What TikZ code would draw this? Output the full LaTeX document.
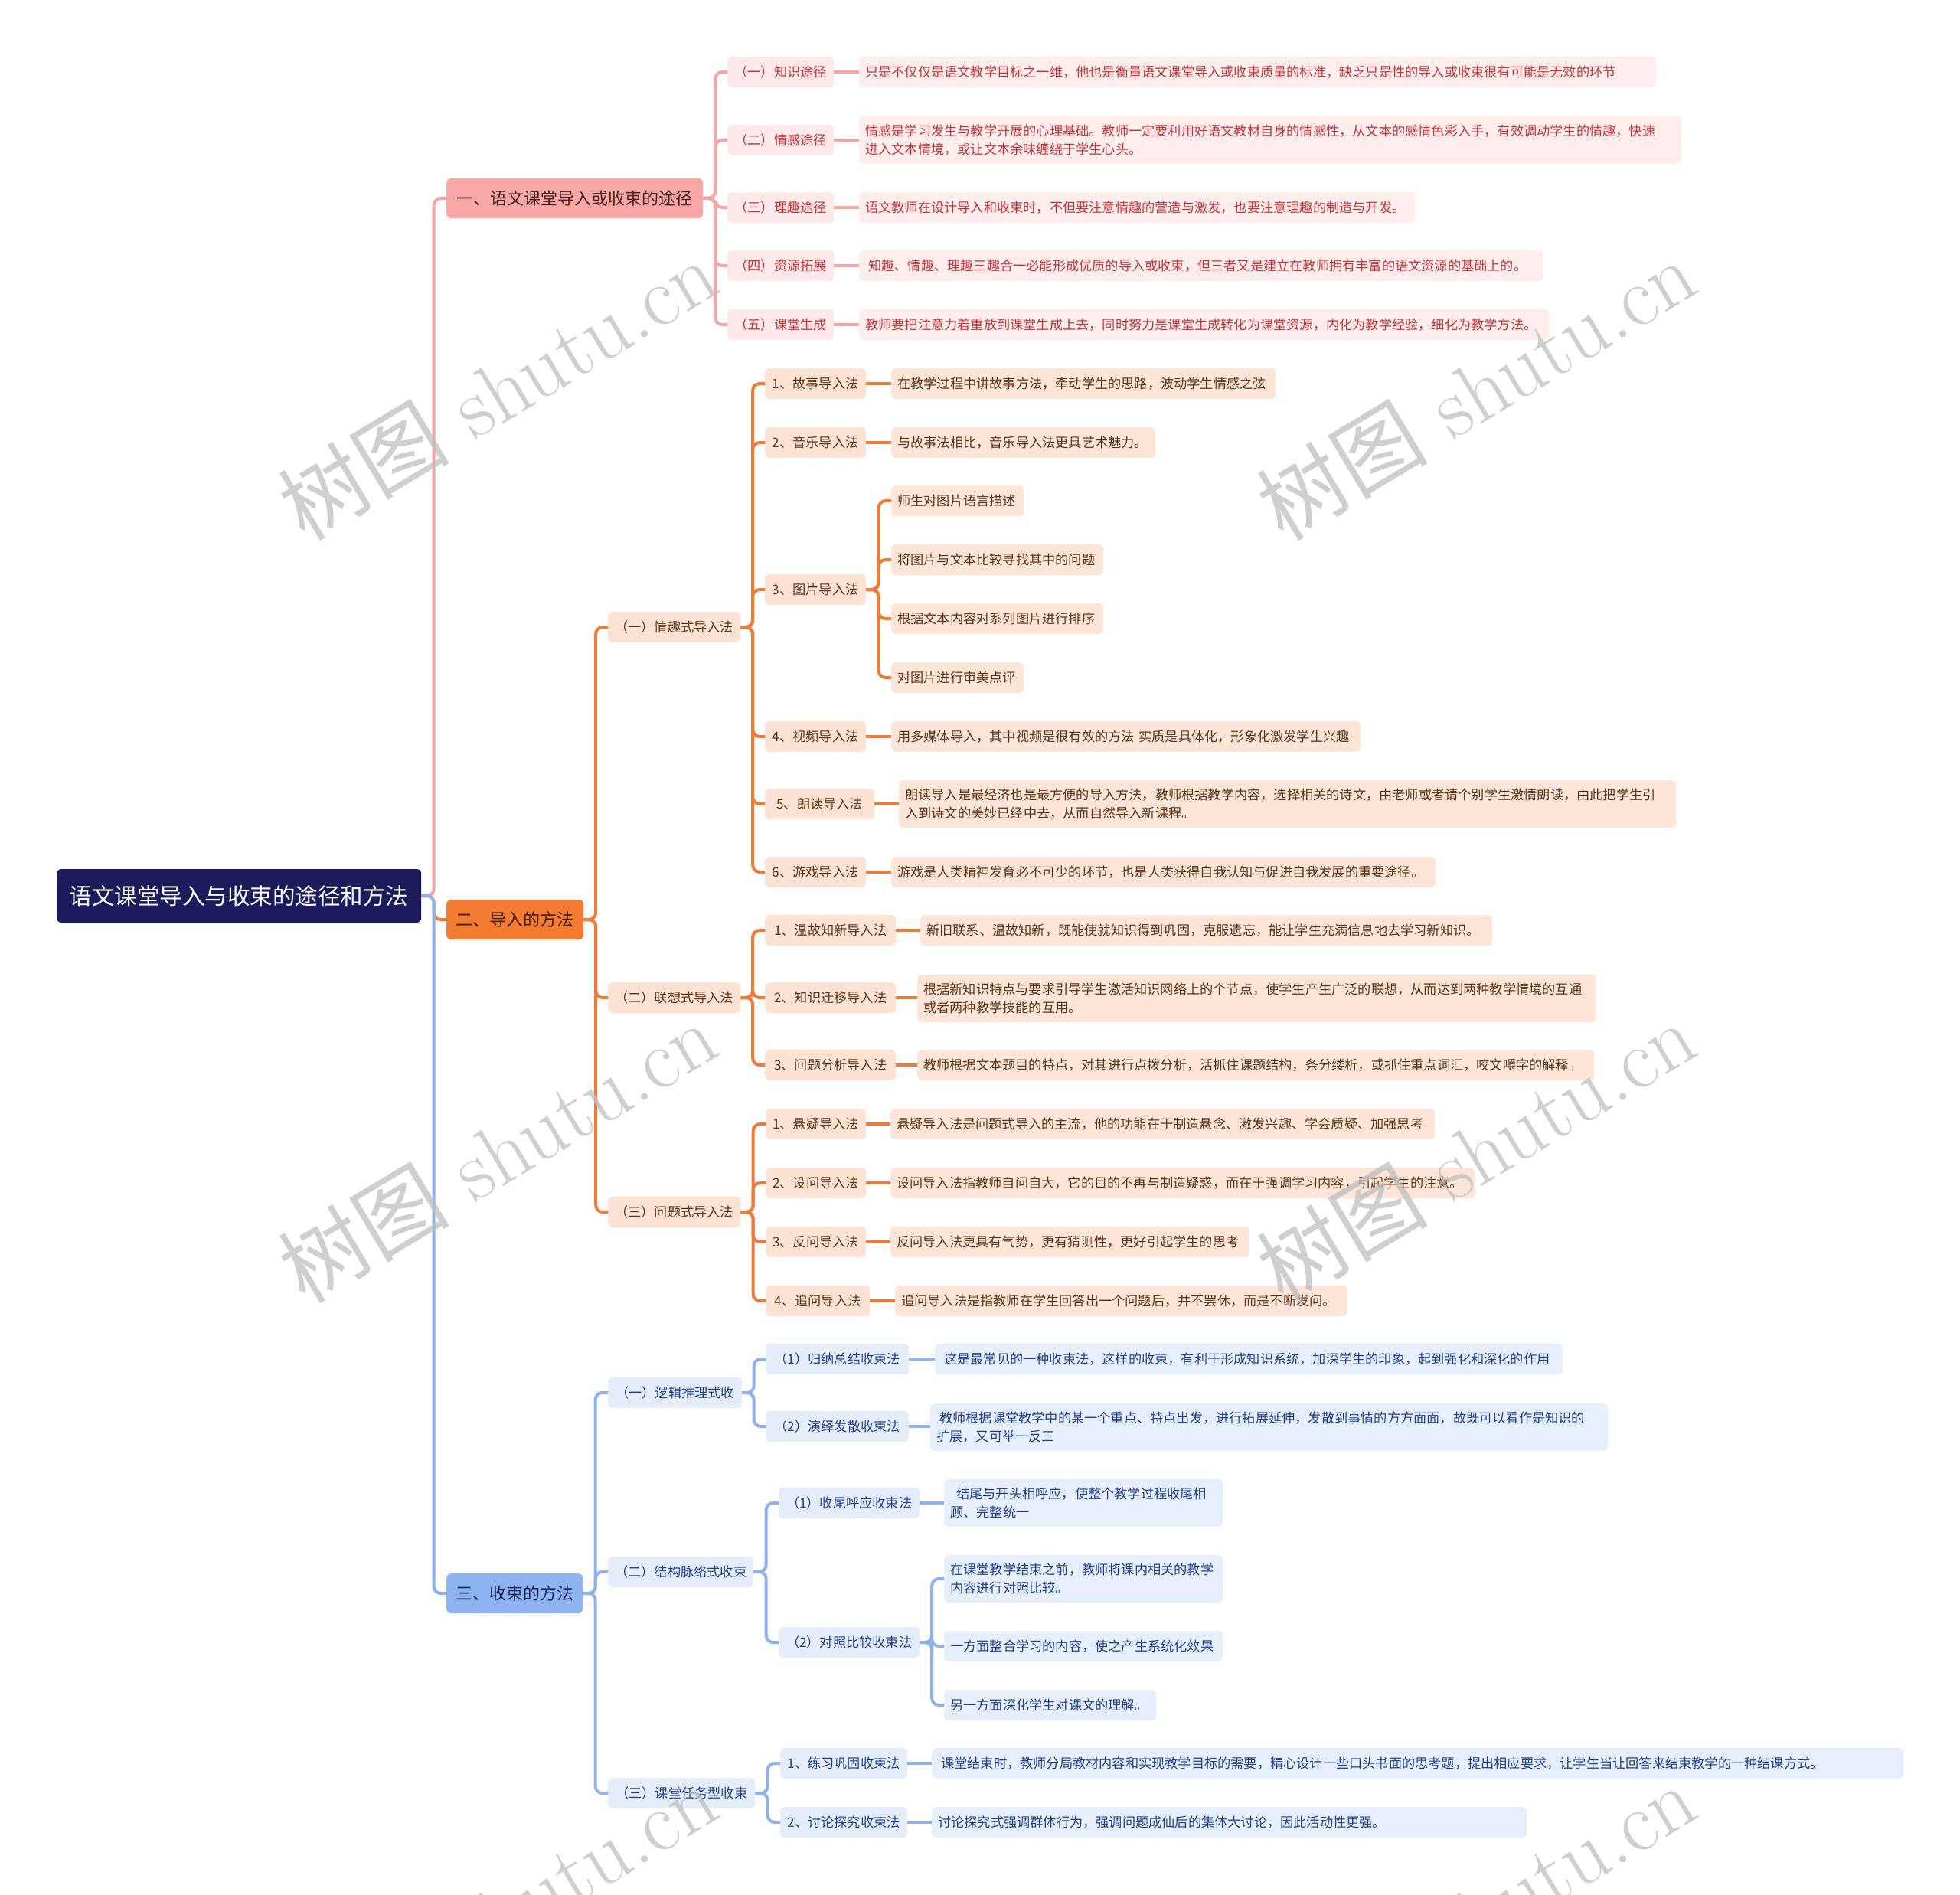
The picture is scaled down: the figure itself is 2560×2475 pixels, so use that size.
\documentclass[tikz,border=0pt]{standalone}
\usepackage{fontspec}
\newfontfamily\cjk{Noto Sans CJK SC}
\usetikzlibrary{calc}
\definecolor{cRoot}{HTML}{1C1B5C}
\definecolor{cPkA}{HTML}{F7A8A6}
\definecolor{cPkAt}{HTML}{4A2424}
\definecolor{cPkB}{HTML}{FDE9E9}
\definecolor{cPkL}{HTML}{FDEEED}
\definecolor{cPkt}{HTML}{C0343A}
\definecolor{cPkLine}{HTML}{F3A6A4}
\definecolor{cOrA}{HTML}{F47B32}
\definecolor{cOrAt}{HTML}{3A1E08}
\definecolor{cOrB}{HTML}{FDE3D3}
\definecolor{cOrL}{HTML}{FDE6D8}
\definecolor{cOrt}{HTML}{5C3317}
\definecolor{cOrLine}{HTML}{EE7C38}
\definecolor{cBlA}{HTML}{8DB3F1}
\definecolor{cBlAt}{HTML}{1A2A5C}
\definecolor{cBlB}{HTML}{E5EDFB}
\definecolor{cBlL}{HTML}{E8EFFC}
\definecolor{cBlt}{HTML}{23408E}
\definecolor{cBlLine}{HTML}{8FB2EE}
\tikzset{
  box/.style={anchor=west, rounded corners=6pt, inner xsep=9pt, inner ysep=0pt,
    minimum height=40pt, align=left, font=\cjk\fontsize{17.2}{23.5}\selectfont},
  leaf/.style={box, inner xsep=8pt},
  two/.style={minimum height=62pt},
  big/.style={box, minimum height=52pt, align=center, font=\cjk\fontsize{22}{26}\selectfont},
  rootbox/.style={box, fill=cRoot, text=white, minimum height=70pt, align=center,
    font=\cjk\fontsize{29.5}{33}\selectfont},
  pkA/.style={big, fill=cPkA, text=cPkAt},
  pkB/.style={box, fill=cPkB, text=cPkt, align=center},
  pkL/.style={leaf, fill=cPkL, text=cPkt},
  orA/.style={big, fill=cOrA, text=cOrAt},
  orB/.style={box, fill=cOrB, text=cOrt, align=center},
  orL/.style={leaf, fill=cOrL, text=cOrt},
  blA/.style={big, fill=cBlA, text=cBlAt},
  blB/.style={box, fill=cBlB, text=cBlt, align=center},
  blL/.style={leaf, fill=cBlL, text=cBlt},
  edge/.style={line width=4pt, rounded corners=9pt},
  pkE/.style={edge, draw=cPkLine},
  orE/.style={edge, draw=cOrLine},
  blE/.style={edge, draw=cBlLine},
  wmark/.style={rotate=31, text=black!25, opacity=0.75, font=\fontsize{112}{112}\selectfont}
}
\newcommand\lnk[3]{\draw[#1] (#2.east) -- ($(#2.east)!0.5!(#2.east -| #3.west)$) |- (#3.west);}
\newcommand\lns[3]{\draw[#1] (#2.east) -- (#2.east -| #3.west);}
\begin{document}
\begin{tikzpicture}[x=1pt,y=-1pt]
\useasboundingbox[fill=white] (0,0) rectangle (2560,2475);

% root and level 1
\node[rootbox, minimum width=476pt] (root) at (74,1170) {语文课堂导入与收束的途径和方法};
\node[pkA, minimum width=335pt] (A1) at (583,259) {一、语文课堂导入或收束的途径};
\node[orA, minimum width=179pt] (A2) at (583,1201) {二、导入的方法};
\node[blA, minimum width=178pt] (A3) at (583,2081) {三、收束的方法};

% pink branch
\node[pkB, minimum width=139pt] (p1) at (950,94) {（一）知识途径};
\node[pkB, minimum width=139pt] (p2) at (950,183) {（二）情感途径};
\node[pkB, minimum width=139pt] (p3) at (950,271) {（三）理趣途径};
\node[pkB, minimum width=139pt] (p4) at (950,347) {（四）资源拓展};
\node[pkB, minimum width=139pt] (p5) at (950,424) {（五）课堂生成};
\node[pkL, text width=1025pt] (p1L) at (1122,94) {只是不仅仅是语文教学目标之一维，他也是衡量语文课堂导入或收束质量的标准，缺乏只是性的导入或收束很有可能是无效的环节};
\node[pkL, two, text width=1058pt] (p2L) at (1122,183) {情感是学习发生与教学开展的心理基础。教师一定要利用好语文教材自身的情感性，从文本的感情色彩入手，有效调动学生的情趣，快速\\进入文本情境，或让文本余味缠绕于学生心头。};
\node[pkL, text width=710pt] (p3L) at (1122,271) {语文教师在设计导入和收束时，不但要注意情趣的营造与激发，也要注意理趣的制造与开发。};
\node[pkL, text width=878pt] (p4L) at (1122,347) {\hspace{4pt}知趣、情趣、理趣三趣合一必能形成优质的导入或收束，但三者又是建立在教师拥有丰富的语文资源的基础上的。};
\node[pkL, text width=885pt] (p5L) at (1122,424) {教师要把注意力着重放到课堂生成上去，同时努力是课堂生成转化为课堂资源，内化为教学经验，细化为教学方法。};

% orange branch
\node[orB, minimum width=173pt] (o1) at (794,819) {（一）情趣式导入法};
\node[orB, minimum width=173pt] (o2) at (794,1303) {（二）联想式导入法};
\node[orB, minimum width=173pt] (o3) at (794,1583) {（三）问题式导入法};

\node[orB, minimum width=132pt] (a1) at (999,501) {1、故事导入法};
\node[orB, minimum width=132pt] (a2) at (999,578) {2、音乐导入法};
\node[orB, minimum width=132pt] (a3) at (999,770) {3、图片导入法};
\node[orB, minimum width=132pt] (a4) at (999,962) {4、视频导入法};
\node[orB, minimum width=143pt] (a5) at (999,1050) {5、朗读导入法};
\node[orB, minimum width=132pt] (a6) at (999,1139) {6、游戏导入法};
\node[orL, text width=486pt] (a1L) at (1164,501) {在教学过程中讲故事方法，牵动学生的思路，波动学生情感之弦};
\node[orL, text width=329pt] (a2L) at (1164,578) {与故事法相比，音乐导入法更具艺术魅力。};
\node[orL, text width=157pt] (a3a) at (1164,654) {师生对图片语言描述};
\node[orL, text width=261pt] (a3b) at (1164,731) {将图片与文本比较寻找其中的问题};
\node[orL, text width=261pt] (a3c) at (1164,808) {根据文本内容对系列图片进行排序};
\node[orL, text width=157pt] (a3d) at (1164,885) {对图片进行审美点评};
\node[orL, text width=597pt] (a4L) at (1164,962) {用多媒体导入，其中视频是很有效的方法 实质是具体化，形象化激发学生兴趣};
\node[orL, two, text width=999pt] (a5L) at (1174,1050) {朗读导入是最经济也是最方便的导入方法，教师根据教学内容，选择相关的诗文，由老师或者请个别学生激情朗读，由此把学生引\\入到诗文的美妙已经中去，从而自然导入新课程。};
\node[orL, text width=695pt] (a6L) at (1164,1139) {游戏是人类精神发育必不可少的环节，也是人类获得自我认知与促进自我发展的重要途径。};

\node[orB, minimum width=171pt] (b1) at (999,1215) {1、温故知新导入法};
\node[orB, minimum width=171pt] (b2) at (999,1303) {2、知识迁移导入法};
\node[orB, minimum width=171pt] (b3) at (999,1391) {3、问题分析导入法};
\node[orL, text width=731pt] (b1L) at (1202,1215) {新旧联系、温故知新，既能使就知识得到巩固，克服遗忘，能让学生充满信息地去学习新知识。};
\node[orL, two, text width=870pt] (b2L) at (1198,1304) {根据新知识特点与要求引导学生激活知识网络上的个节点，使学生产生广泛的联想，从而达到两种教学情境的互通\\或者两种教学技能的互用。};
\node[orL, text width=868pt] (b3L) at (1198,1391) {教师根据文本题目的特点，对其进行点拨分析，活抓住课题结构，条分缕析，或抓住重点词汇，咬文嚼字的解释。};

\node[orB, minimum width=130pt] (c1) at (1000,1468) {1、悬疑导入法};
\node[orB, minimum width=130pt] (c2) at (1000,1545) {2、设问导入法};
\node[orB, minimum width=130pt] (c3) at (1000,1622) {3、反问导入法};
\node[orB, minimum width=136pt] (c4) at (1000,1699) {4、追问导入法};
\node[orL, text width=695pt] (c1L) at (1163,1468) {悬疑导入法是问题式导入的主流，他的功能在于制造悬念、激发兴趣、学会质疑、加强思考};
\node[orL, text width=747pt] (c2L) at (1163,1545) {设问导入法指教师自问自大，它的目的不再与制造疑惑，而在于强调学习内容，引起学生的注意。};
\node[orL, text width=453pt] (c3L) at (1163,1622) {反问导入法更具有气势，更有猜测性，更好引起学生的思考};
\node[orL, text width=575pt] (c4L) at (1169,1699) {追问导入法是指教师在学生回答出一个问题后，并不罢休，而是不断发问。};

% blue branch
\node[blB, minimum width=175pt] (u1) at (794,1819) {（一）逻辑推理式收};
\node[blB, minimum width=190pt] (u2) at (794,2053) {（二）结构脉络式收束};
\node[blB, minimum width=192pt] (u3) at (794,2342) {（三）课堂任务型收束};

\node[blB, minimum width=187pt] (d1) at (1000,1775) {（1）归纳总结收束法};
\node[blB, minimum width=187pt] (d2) at (1000,1863) {（2）演绎发散收束法};
\node[blL, text width=804pt] (d1L) at (1221,1775) {\hspace{4pt}这是最常见的一种收束法，这样的收束，有利于形成知识系统，加深学生的印象，起到强化和深化的作用};
\node[blL, two, text width=869pt] (d2L) at (1215,1864) {\hspace{4pt}教师根据课堂教学中的某一个重点、特点出发，进行拓展延伸，发散到事情的方方面面，故既可以看作是知识的\\扩展，又可举一反三};

\node[blB, minimum width=184pt] (e1) at (1017,1963) {（1）收尾呼应收束法};
\node[blB, minimum width=184pt] (e2) at (1017,2145) {（2）对照比较收束法};
\node[blL, two, text width=348pt] (e1L) at (1233,1963) {\hspace{8pt}结尾与开头相呼应，使整个教学过程收尾相\\顾、完整统一};
\node[blL, two, text width=348pt] (e2a) at (1233,2062) {在课堂教学结束之前，教师将课内相关的教学\\内容进行对照比较。};
\node[blL, text width=348pt] (e2b) at (1233,2150) {一方面整合学习的内容，使之产生系统化效果};
\node[blL, text width=261pt] (e2c) at (1233,2227) {另一方面深化学生对课文的理解。};

\node[blB, minimum width=166pt] (f1) at (1019,2303) {1、练习巩固收束法};
\node[blB, minimum width=166pt] (f2) at (1019,2380) {2、讨论探究收束法};
\node[blL, text width=1253pt] (f1L) at (1217,2303) {\hspace{4pt}课堂结束时，教师分局教材内容和实现教学目标的需要，精心设计一些口头书面的思考题，提出相应要求，让学生当让回答来结束教学的一种结课方式。};
\node[blL, text width=761pt] (f2L) at (1217,2380) {讨论探究式强调群体行为，强调问题成仙后的集体大讨论，因此活动性更强。};

% connectors
\lnk{pkE}{root}{A1}
\lnk{orE}{root}{A2}
\lnk{blE}{root}{A3}

\foreach \c in {p1,p2,p3,p4,p5} {\lnk{pkE}{A1}{\c}}
\foreach \c in {p1,p2,p3,p4,p5} {\lns{pkE}{\c}{\c L}}

\foreach \c in {o1,o2,o3} {\lnk{orE}{A2}{\c}}
\foreach \c in {a1,a2,a3,a4,a5,a6} {\lnk{orE}{o1}{\c}}
\foreach \c in {a1,a2,a4,a5,a6} {\lns{orE}{\c}{\c L}}
\foreach \c in {a3a,a3b,a3c,a3d} {\lnk{orE}{a3}{\c}}
\foreach \c in {b1,b2,b3} {\lnk{orE}{o2}{\c}}
\foreach \c in {b1,b2,b3} {\lns{orE}{\c}{\c L}}
\foreach \c in {c1,c2,c3,c4} {\lnk{orE}{o3}{\c}}
\foreach \c in {c1,c2,c3,c4} {\lns{orE}{\c}{\c L}}

\foreach \c in {u1,u2,u3} {\lnk{blE}{A3}{\c}}
\foreach \c in {d1,d2} {\lnk{blE}{u1}{\c}}
\foreach \c in {d1,d2} {\lns{blE}{\c}{\c L}}
\foreach \c in {e1,e2} {\lnk{blE}{u2}{\c}}
\lns{blE}{e1}{e1L}
\foreach \c in {e2a,e2b,e2c} {\lnk{blE}{e2}{\c}}
\foreach \c in {f1,f2} {\lnk{blE}{u3}{\c}}
\foreach \c in {f1,f2} {\lns{blE}{\c}{\c L}}

% watermarks
\node[wmark] (w1) at (650,508) {{\cjk 树图} shutu.cn};
\node[wmark] (w2) at (1928,508) {{\cjk 树图} shutu.cn};
\node[wmark] (w3) at (650,1504) {{\cjk 树图} shutu.cn};
\node[wmark] (w4) at (1928,1504) {{\cjk 树图} shutu.cn};
\node[wmark] (w5) at (650,2500) {{\cjk 树图} shutu.cn};
\node[wmark] (w6) at (1928,2500) {{\cjk 树图} shutu.cn};
\end{tikzpicture}
\end{document}
